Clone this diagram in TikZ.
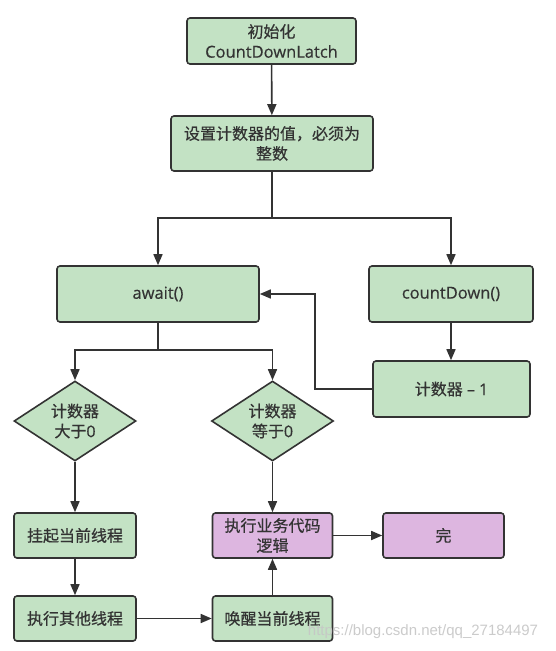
\documentclass[tikz,border=0pt]{standalone}
\usepackage{fontspec}
\setmainfont{Open Sans}[FakeBold=0.4]
\newfontfamily\cjk{Noto Sans CJK SC}[FakeBold=0.6]
\newfontfamily\wmfont{Liberation Sans}
\usetikzlibrary{arrows.meta,shapes.geometric}
\definecolor{gfill}{HTML}{C3E2C4}
\definecolor{pfill}{HTML}{DDB6E0}
\definecolor{ln}{HTML}{333333}
\begin{document}
\begin{tikzpicture}[x=1pt,y=-1pt,
  box/.style={draw=ln,line width=1.6pt,rounded corners=3pt,fill=gfill,inner sep=0pt,
    align=center,text=ln,font=\fontsize{16}{20}\selectfont},
  pbox/.style={box,fill=pfill},
  dia/.style={diamond,shape aspect=1.5,draw=ln,line width=1.6pt,fill=gfill,inner sep=0pt,
    align=center,text=ln,font=\fontsize{16}{20}\selectfont,minimum width=122pt,minimum height=80pt},
  conn/.style={draw=ln,line width=1.6pt},
  arr/.style={conn,-{Triangle[length=11pt,width=9pt]}}]
\fill[white] (0,0) rectangle (555,651);
\node[box,minimum width=169pt,minimum height=46pt] (init) at (271.5,41) {{\cjk 初始化}\\{\fontsize{16.5}{20}\selectfont CountDownLatch}};
\node[box,minimum width=202pt,minimum height=55pt] (setv) at (272,143.5) {\cjk 设置计数器的值，必须为\\\cjk 整数};
\node[box,minimum width=202pt,minimum height=56pt] (await) at (158,294) {\fontsize{16.5}{20}\selectfont await()};
\node[box,minimum width=164pt,minimum height=56pt] (cd) at (451,294) {\fontsize{16.5}{20}\selectfont countDown()};
\node[box,minimum width=157pt,minimum height=56pt] (minus) at (451.5,389) {{\cjk 计数器} – 1};
\node[dia] (d1) at (75,421) {\cjk 计数器\\{\cjk 大于}0};
\node[dia] (d2) at (272.5,421) {\cjk 计数器\\{\cjk 等于}0};
\node[box,minimum width=122pt,minimum height=45pt] (hang) at (75,535.5) {\cjk 挂起当前线程};
\node[box,minimum width=122pt,minimum height=45pt] (other) at (75,618.5) {\cjk 执行其他线程};
\node[pbox,minimum width=120pt,minimum height=45pt] (biz) at (272.5,535.5) {\cjk 执行业务代码\\\cjk 逻辑};
\node[box,minimum width=120pt,minimum height=45pt] (wake) at (272.5,618.5) {\cjk 唤醒当前线程};
\node[pbox,minimum width=121pt,minimum height=45pt] (done) at (443.5,535.5) {\cjk 完};
\coordinate (sp1) at (272,218);
\coordinate (sp2) at (158,350);
\coordinate (fb) at (315,389);
\draw[arr] (init) -- (setv);
\draw[arr] (setv.south) -- (sp1) -| (await.north);
\draw[arr] (setv.south) -- (sp1) -| (cd.north);
\draw[arr] (cd.south) -- (cd.south |- minus.north);
\draw[arr] (minus.west) -- (fb) |- (await.east);
\draw[arr] (await.south) -- (sp2) -| (d1.north);
\draw[arr] (await.south) -- (sp2) -| (d2.north);
\draw[arr] (d1) -- (hang);
\draw[arr] (hang) -- (other);
\draw[arr] (d2) -- (biz);
\draw[arr] (other) -- (wake);
\draw[arr] (wake) -- (biz);
\draw[arr] (biz) -- (done);
\node[text=gray!45,opacity=0.9,font=\wmfont\fontsize{15}{18}\selectfont,inner sep=0pt] (wm) at (423,632) {https://blog.csdn.net/qq\_27184497};
\end{tikzpicture}
\end{document}
